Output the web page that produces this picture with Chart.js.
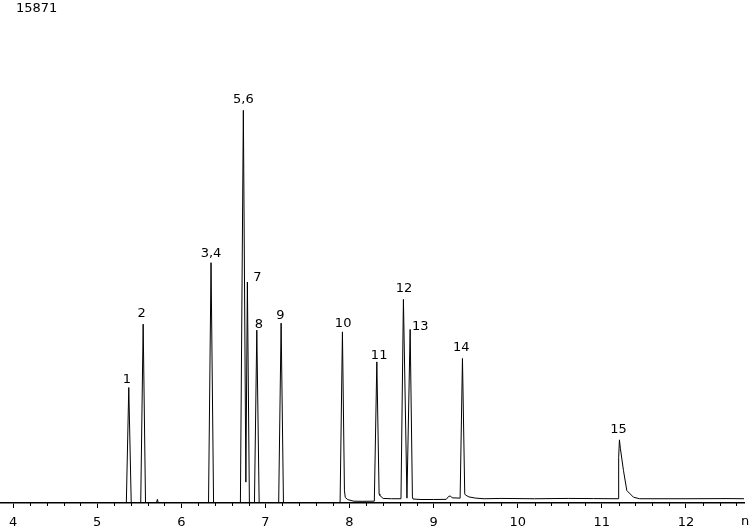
<!DOCTYPE html>
<html>
<head>
<meta charset="utf-8">
<script src="https://cdn.jsdelivr.net/npm/chart.js@4.4.1/dist/chart.umd.min.js"></script>
<style>
  html, body { margin: 0; padding: 0; background: #fff; }
  #wrap { position: relative; width: 750px; height: 528px; }
</style>
</head>
<body>
<div id="wrap"><canvas id="c" width="750" height="528"></canvas></div>
<script>
// ---- data ----
const yFullScale = 15871;
const xTicks = [4, 5, 6, 7, 8, 9, 10, 11, 12];
const axisTitle = "n";

// trace: retention time (min) and detector signal
const traceTime = [
  3.845, 4.0, 5.0, 5.347, 5.376, 5.405,
  5.518, 5.547, 5.575,
  5.705, 5.716, 5.727,
  6.324, 6.354, 6.384,
  6.703, 6.738, 6.768, 6.786, 6.81,
  6.87, 6.898, 6.926,
  7.158, 7.187, 7.215,
  7.888, 7.916, 7.94, 7.95, 7.98, 8.05, 8.15, 8.295,
  8.325, 8.352, 8.36, 8.40, 8.50, 8.612,
  8.641, 8.683, 8.721, 8.748, 8.755,
  8.85, 9.0, 9.15, 9.18, 9.20, 9.22, 9.315,
  9.343, 9.37, 9.38, 9.42, 9.5, 9.6, 9.8, 10.2, 10.6, 10.9, 11.195,
  11.20, 11.209, 11.22, 11.257, 11.297, 11.376, 11.45, 12.0, 12.5, 12.69
];
const traceSignal = [
  0, 0, 0, 0, 3794, 0,
  0, 5878, 0,
  0, 120, 0,
  0, 7897, 0,
  0, 12902, 685, 7261, 0,
  0, 5680, 0,
  0, 5911, 0,
  0, 5624, 400, 180, 110, 60, 55, 60,
  4637, 300, 250, 150, 140, 140,
  6691, 160, 5703, 200, 130,
  115, 115, 120, 220, 230, 170, 160,
  4749, 300, 260, 200, 160, 140, 150, 140, 150, 145, 140,
  1500, 2075, 1800, 1070, 410, 190, 140, 140, 145, 140
];

// peak annotations
const peakNames   = ["1", "2", "3,4", "5,6", "7", "8", "9", "10", "11", "12", "13", "14", "15"];
const peakTimes   = [5.376, 5.547, 6.354, 6.738, 6.786, 6.898, 7.187, 7.916, 8.325, 8.641, 8.721, 9.343, 11.209];
const peakHeights = [3794, 5878, 7897, 12902, 7261, 5680, 5911, 5624, 4637, 6691, 5703, 4749, 2075];

const FONT = "'DejaVu Sans', Verdana, sans-serif";

const points = traceTime.map((t, i) => ({ x: t, y: traceSignal[i] }));

const decorPlugin = {
  id: 'decor',
  afterDraw(chart, args, opts) {
    const ctx = chart.ctx;
    const xs = chart.scales.x, ys = chart.scales.y;
    const area = chart.chartArea;
    ctx.save();
    // minor ticks
    ctx.strokeStyle = '#000';
    ctx.lineWidth = 1;
    const step = opts.minorStep;
    for (let k = Math.ceil(xs.min / step); k * step <= xs.max; k++) {
      const v = k * step;
      if (Math.abs(v - Math.round(v)) < 1e-6) continue;
      const px = Math.round(xs.getPixelForValue(v)) + 0.5;
      ctx.beginPath();
      ctx.moveTo(px, area.bottom);
      ctx.lineTo(px, area.bottom + opts.minorLen);
      ctx.stroke();
    }
    // peak labels
    ctx.fillStyle = '#000';
    ctx.font = '13px ' + FONT;
    ctx.textAlign = 'center';
    ctx.textBaseline = 'alphabetic';
    peakNames.forEach((name, i) => {
      const off = opts.labelOffsets[i] || [0, -5];
      const px = xs.getPixelForValue(peakTimes[i]) + off[0];
      const py = ys.getPixelForValue(peakHeights[i]) + off[1];
      ctx.fillText(name, px, py);
    });
    // full-scale value, top-left
    ctx.font = '13px ' + FONT;
    ctx.textAlign = 'left';
    ctx.textBaseline = 'top';
    ctx.fillText(String(yFullScale), 16, 2);
    // axis unit (clipped at right edge)
    ctx.font = '13px ' + FONT;
    ctx.textAlign = 'left';
    ctx.textBaseline = 'middle';
    ctx.fillText(axisTitle, 741, 522);
    ctx.restore();
  }
};

new Chart(document.getElementById('c'), {
  type: 'line',
  data: {
    datasets: [{
      data: points,
      borderColor: '#000',
      borderWidth: 1,
      pointRadius: 0,
      tension: 0,
      fill: false
    }]
  },
  options: {
    responsive: false,
    animation: false,
    events: [],
    layout: { padding: { left: 0, right: 6, top: 20, bottom: -9 } },
    plugins: {
      legend: { display: false },
      tooltip: { enabled: false },
      decor: {
        minorStep: 0.2,
        minorLen: 3,
        labelOffsets: [
          [-2, -5], [-1.5, -7], [0, -6], [0, -7], [10, -1], [2, -2], [-0.7, -4],
          [0.7, -4.5], [2.3, -2.5], [0.5, -7], [10, 0.5], [-1.3, -7], [-1, -6.5]
        ]
      }
    },
    scales: {
      x: {
        type: 'linear',
        min: 3.845,
        max: 12.69,
        afterBuildTicks: s => { s.ticks = xTicks.map(v => ({ value: v })); },
        grid: { display: true, drawOnChartArea: false, tickLength: 5, color: '#000', lineWidth: 1 },
        border: { display: true, color: '#000', width: 1.5 },
        ticks: {
          color: '#000',
          font: { family: FONT, size: 13, lineHeight: 1 },
          padding: 8,
          maxRotation: 0,
          autoSkip: false,
          callback: v => String(v)
        }
      },
      y: {
        display: false,
        min: 0,
        max: yFullScale
      }
    }
  },
  plugins: [decorPlugin]
});
</script>
</body>
</html>
